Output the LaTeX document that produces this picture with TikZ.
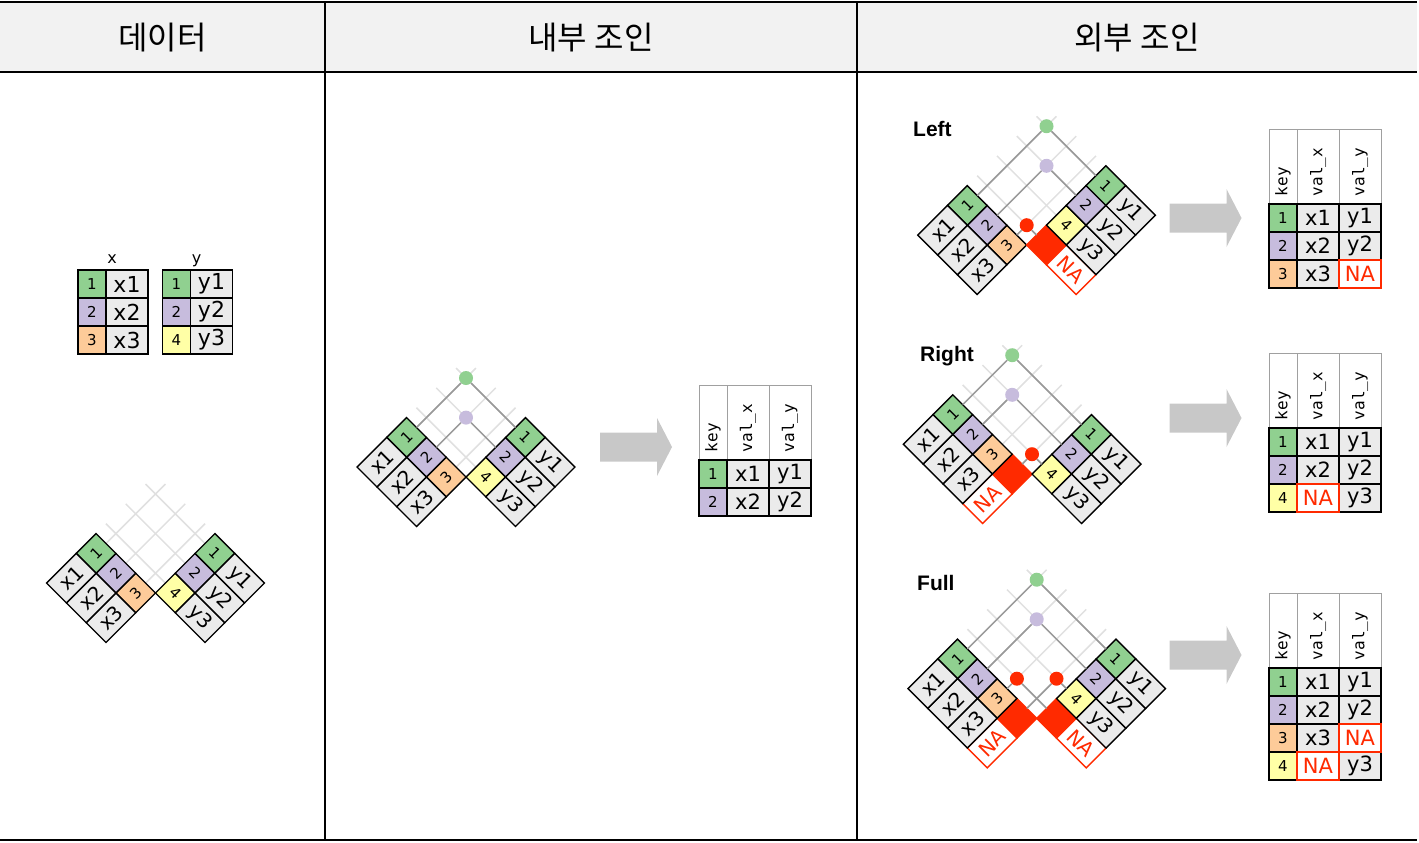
\documentclass[tikz,border=0pt]{standalone}
\usepackage{fontspec}
\setmainfont{DejaVu Sans}
\setmonofont{DejaVu Sans Mono}
\newfontfamily\hangul{Noto Sans CJK KR}
\newfontfamily\labelsans{Liberation Sans}
\usetikzlibrary{positioning}

\definecolor{kgreen}{HTML}{90D090}
\definecolor{kpurple}{HTML}{C7BCDD}
\definecolor{korange}{HTML}{FDCB99}
\definecolor{kyellow}{HTML}{FFFFA6}
\definecolor{cellgray}{HTML}{EBEBEB}
\definecolor{nared}{HTML}{FF2A00}
\definecolor{arrowgray}{HTML}{C8C8C8}
\definecolor{headgray}{HTML}{F2F2F2}
\definecolor{gridgray}{HTML}{E0E0E0}
\definecolor{linkgray}{HTML}{999999}
\definecolor{hdline}{HTML}{A0A0A0}

\tikzset{
  cell/.style={draw=black, line width=1.4pt, inner sep=0pt, outer sep=0pt},
  keycell/.style={cell, minimum width=28pt, minimum height=28pt, font=\fontsize{15}{15}\selectfont},
  kg/.style={keycell, fill=kgreen},
  kp/.style={keycell, fill=kpurple},
  ko/.style={keycell, fill=korange},
  ky/.style={keycell, fill=kyellow},
  kna/.style={keycell, fill=nared, draw=nared},
  vc/.style={cell, fill=cellgray, minimum width=42pt, minimum height=28pt, font=\fontsize{20}{20}\selectfont},
  na/.style={vc, fill=white, draw=nared, text=nared},
  fv/.style={vc, font=\fontsize{22}{22}\selectfont},
  rv/.style={vc, font=\fontsize{21}{21}\selectfont},
  rna/.style={na, font=\fontsize{21}{21}\selectfont},
  naframe/.style={draw=nared, line width=1.4pt},
  headcell/.style={draw=hdline, line width=1pt, fill=white, rotate=90, inner xsep=8pt, inner ysep=0pt,
    text width=59pt, align=left, font=\ttfamily\fontsize{16}{16}\selectfont},
  lattice/.style={draw=gridgray, line width=1.5pt},
  link/.style={draw=linkgray, line width=1.5pt},
  dot/.style={circle, minimum size=14pt, inner sep=0pt, draw=none},
  heading/.style={font=\hangul\fontsize{32}{32}\selectfont},
  jointitle/.style={font=\labelsans\bfseries\fontsize{21}{21}\selectfont, inner sep=0pt, anchor=base west},
  rule/.style={line width=2pt},
}

% result table: name, left x, top y, rows
\newcommand{\restable}[4]{%
  \node[headcell, minimum height=28pt] (#1h1) at (#2+14,#3+37.5) {key};
  \node[headcell, minimum height=42pt] (#1h2) at (#2+49,#3+37.5) {val\_x};
  \node[headcell, minimum height=42pt] (#1h3) at (#2+91,#3+37.5) {val\_y};
  \foreach \ks/\kn/\sx/\tx/\sy/\ty [count=\i] in {#4}
    {\node[\ks] (#1k\i) at (#2+14,#3+61+28*\i) {\kn};
     \node[\sx] (#1x\i) at (#2+49,#3+61+28*\i) {\tx};
     \node[\sy] (#1y\i) at (#2+91,#3+61+28*\i) {\ty};}
}
% grey block arrow: left x, middle y
\newcommand{\bigarrow}[2]{%
  \fill[arrowgray] (#1,#2-14.5) -- ++(57,0) -- ++(0,-14.5) -- ++(15,29)
    -- ++(-15,29) -- ++(0,-14.5) -- ++(-57,0) -- cycle;
}

\begin{document}
\begin{tikzpicture}[x=1pt, y=-1pt]
\useasboundingbox (0,0) rectangle (1419,843);

% frame
\fill[headgray] (0,2) rectangle (1417,72);
\draw[rule] (0,2) -- (1417,2);
\draw[rule] (0,72) -- (1417,72);
\draw[rule] (0,840) -- (1417,840);
\draw[line width=1.5pt] (325,2) -- (325,840);
\draw[line width=1.5pt] (857,2) -- (857,840);
\node[heading] (hdata) at (162.5,38) {데이터};
\node[heading] (hinner) at (591,38) {내부 조인};
\node[heading] (houter) at (1137,38) {외부 조인};

% data: plain tables
\node[anchor=base, font=\fontsize{16}{16}\selectfont] (xname) at (112,263) {x};
\node[anchor=base, font=\fontsize{16}{16}\selectfont] (yname) at (196.5,263) {y};
\foreach \ks/\kn/\vt [count=\i] in {kg/1/x1, kp/2/x2, ko/3/x3}
  {\node[\ks] (txk\i) at (92,256+28*\i) {\kn};
   \node[fv] (txv\i) at (127,256+28*\i) {\vt};}
\foreach \ks/\kn/\vt [count=\i] in {kg/1/y1, kp/2/y2, ky/4/y3}
  {\node[\ks] (tyk\i) at (176.5,256+28*\i) {\kn};
   \node[fv] (tyv\i) at (211.5,256+28*\i) {\vt};}

% data: turned tables
\begin{scope}[shift={(155.5,593)}, rotate=45, x=28pt, y=28pt, transform shape]
  \foreach \v in {0.5,1.5,2.5} \draw[lattice] (0,\v) -- (3,\v);
  \foreach \u in {0.5,1.5,2.5} \draw[lattice] (\u,0) -- (\u,3);
  \foreach \ks/\kn/\vs/\vt [count=\i] in {ko/3/vc/x3, kp/2/vc/x2, kg/1/vc/x1}
    {\node[\ks] (dxk\i) at (-0.5,\i-0.5) {\kn};
     \node[\vs] (dxv\i) at (-1.75,\i-0.5) {\vt};}
  \foreach \ks/\kn/\vs/\vt [count=\i] in {ky/4/vc/y3, kp/2/vc/y2, kg/1/vc/y1}
    {\node[\ks, rotate=-90] (dyk\i) at (\i-0.5,-0.5) {\kn};
     \node[\vs, rotate=-90] (dyv\i) at (\i-0.5,-1.75) {\vt};}
\end{scope}

% inner join
\begin{scope}[shift={(466,477)}, rotate=45, x=28pt, y=28pt, transform shape]
  \foreach \v in {0.5,1.5,2.5} \draw[lattice] (0,\v) -- (3,\v);
  \foreach \u in {0.5,1.5,2.5} \draw[lattice] (\u,0) -- (\u,3);
  \foreach \ks/\kn/\vs/\vt [count=\i] in {ko/3/vc/x3, kp/2/vc/x2, kg/1/vc/x1}
    {\node[\ks] (ixk\i) at (-0.5,\i-0.5) {\kn};
     \node[\vs] (ixv\i) at (-1.75,\i-0.5) {\vt};}
  \foreach \ks/\kn/\vs/\vt [count=\i] in {ky/4/vc/y3, kp/2/vc/y2, kg/1/vc/y1}
    {\node[\ks, rotate=-90] (iyk\i) at (\i-0.5,-0.5) {\kn};
     \node[\vs, rotate=-90] (iyv\i) at (\i-0.5,-1.75) {\vt};}
  \node[dot, fill=kgreen] (ig) at (2.5,2.5) {};
  \node[dot, fill=kpurple] (ip) at (1.5,1.5) {};
  \draw[link] (ixk3.east) -- (ig) -- (iyk3.west);
  \draw[link] (ixk2.east) -- (ip) -- (iyk2.west);
\end{scope}
\bigarrow{600}{447}
\restable{ir}{699}{385}{kg/1/rv/x1/rv/y1, kp/2/rv/x2/rv/y2}

% left join
\node[jointitle] (lname) at (913,136.5) {Left};
\begin{scope}[shift={(1026.7,245)}, rotate=45, x=28pt, y=28pt, transform shape]
  \foreach \v in {0.5,1.5,2.5} \draw[lattice] (0,\v) -- (4,\v);
  \foreach \u in {0.5,1.5,2.5,3.5} \draw[lattice] (\u,0) -- (\u,3);
  \foreach \ks/\kn/\vs/\vt [count=\i] in {ko/3/vc/x3, kp/2/vc/x2, kg/1/vc/x1}
    {\node[\ks] (lxk\i) at (-0.5,\i-0.5) {\kn};
     \node[\vs] (lxv\i) at (-1.75,\i-0.5) {\vt};}
  \foreach \ks/\kn/\vs/\vt [count=\i] in {kna/{}/na/NA, ky/4/vc/y3, kp/2/vc/y2, kg/1/vc/y1}
    {\node[\ks, rotate=-90] (lyk\i) at (\i-0.5,-0.5) {\kn};
     \node[\vs, rotate=-90] (lyv\i) at (\i-0.5,-1.75) {\vt};}
  \node[dot, fill=kgreen] (lg) at (3.5,2.5) {};
  \node[dot, fill=kpurple] (lp) at (2.5,1.5) {};
  \node[dot, fill=nared] (lr) at (0.5,0.5) {};
  \draw[link] (lxk3.east) -- (lg) -- (lyk4.west);
  \draw[link] (lxk2.east) -- (lp) -- (lyk3.west);
  \draw[link] (lxk1.east) -- (lr) -- (lyk1.west);
\end{scope}
\bigarrow{1169.5}{218}
\restable{lr}{1269}{129}{kg/1/rv/x1/rv/y1, kp/2/rv/x2/rv/y2, ko/3/rv/x3/rna/NA}
\draw[naframe] (lry3.south west) rectangle (lry3.north east);

% right join
\node[jointitle] (rname) at (920,361.5) {Right};
\begin{scope}[shift={(1032,474)}, rotate=45, x=28pt, y=28pt, transform shape]
  \foreach \v in {0.5,1.5,2.5,3.5} \draw[lattice] (0,\v) -- (3,\v);
  \foreach \u in {0.5,1.5,2.5} \draw[lattice] (\u,0) -- (\u,4);
  \foreach \ks/\kn/\vs/\vt [count=\i] in {kna/{}/na/NA, ko/3/vc/x3, kp/2/vc/x2, kg/1/vc/x1}
    {\node[\ks] (rxk\i) at (-0.5,\i-0.5) {\kn};
     \node[\vs] (rxv\i) at (-1.75,\i-0.5) {\vt};}
  \foreach \ks/\kn/\vs/\vt [count=\i] in {ky/4/vc/y3, kp/2/vc/y2, kg/1/vc/y1}
    {\node[\ks, rotate=-90] (ryk\i) at (\i-0.5,-0.5) {\kn};
     \node[\vs, rotate=-90] (ryv\i) at (\i-0.5,-1.75) {\vt};}
  \node[dot, fill=kgreen] (rg) at (2.5,3.5) {};
  \node[dot, fill=kpurple] (rp) at (1.5,2.5) {};
  \node[dot, fill=nared] (rr) at (0.5,0.5) {};
  \draw[link] (rxk4.east) -- (rg) -- (ryk3.west);
  \draw[link] (rxk3.east) -- (rp) -- (ryk2.west);
  \draw[link] (rxk1.east) -- (rr) -- (ryk1.west);
\end{scope}
\bigarrow{1169.5}{418}
\restable{rr}{1269}{353}{kg/1/rv/x1/rv/y1, kp/2/rv/x2/rv/y2, ky/4/rna/NA/rv/y3}
\draw[naframe] (rrx3.south west) rectangle (rrx3.north east);

% full join
\node[jointitle] (fname) at (917,590.5) {Full};
\begin{scope}[shift={(1036.7,718.3)}, rotate=45, x=28pt, y=28pt, transform shape]
  \foreach \v in {0.5,1.5,2.5,3.5} \draw[lattice] (0,\v) -- (4,\v);
  \foreach \u in {0.5,1.5,2.5,3.5} \draw[lattice] (\u,0) -- (\u,4);
  \foreach \ks/\kn/\vs/\vt [count=\i] in {kna/{}/na/NA, ko/3/vc/x3, kp/2/vc/x2, kg/1/vc/x1}
    {\node[\ks] (fxk\i) at (-0.5,\i-0.5) {\kn};
     \node[\vs] (fxv\i) at (-1.75,\i-0.5) {\vt};}
  \foreach \ks/\kn/\vs/\vt [count=\i] in {kna/{}/na/NA, ky/4/vc/y3, kp/2/vc/y2, kg/1/vc/y1}
    {\node[\ks, rotate=-90] (fyk\i) at (\i-0.5,-0.5) {\kn};
     \node[\vs, rotate=-90] (fyv\i) at (\i-0.5,-1.75) {\vt};}
  \node[dot, fill=kgreen] (fg) at (3.5,3.5) {};
  \node[dot, fill=kpurple] (fp) at (2.5,2.5) {};
  \node[dot, fill=nared] (fr1) at (0.5,1.5) {};
  \node[dot, fill=nared] (fr2) at (1.5,0.5) {};
  \draw[link] (fxk4.east) -- (fg) -- (fyk4.west);
  \draw[link] (fxk3.east) -- (fp) -- (fyk3.west);
  \draw[link] (fxk2.east) -- (fr1) -- (fyk1.west);
  \draw[link] (fxk1.east) -- (fr2) -- (fyk2.west);
\end{scope}
\bigarrow{1169.5}{655}
\restable{fr}{1269}{593}{kg/1/rv/x1/rv/y1, kp/2/rv/x2/rv/y2, ko/3/rv/x3/rna/NA, ky/4/rna/NA/rv/y3}
\draw[naframe] (fry3.south west) rectangle (fry3.north east);
\draw[naframe] (frx4.south west) rectangle (frx4.north east);
\end{tikzpicture}
\end{document}
